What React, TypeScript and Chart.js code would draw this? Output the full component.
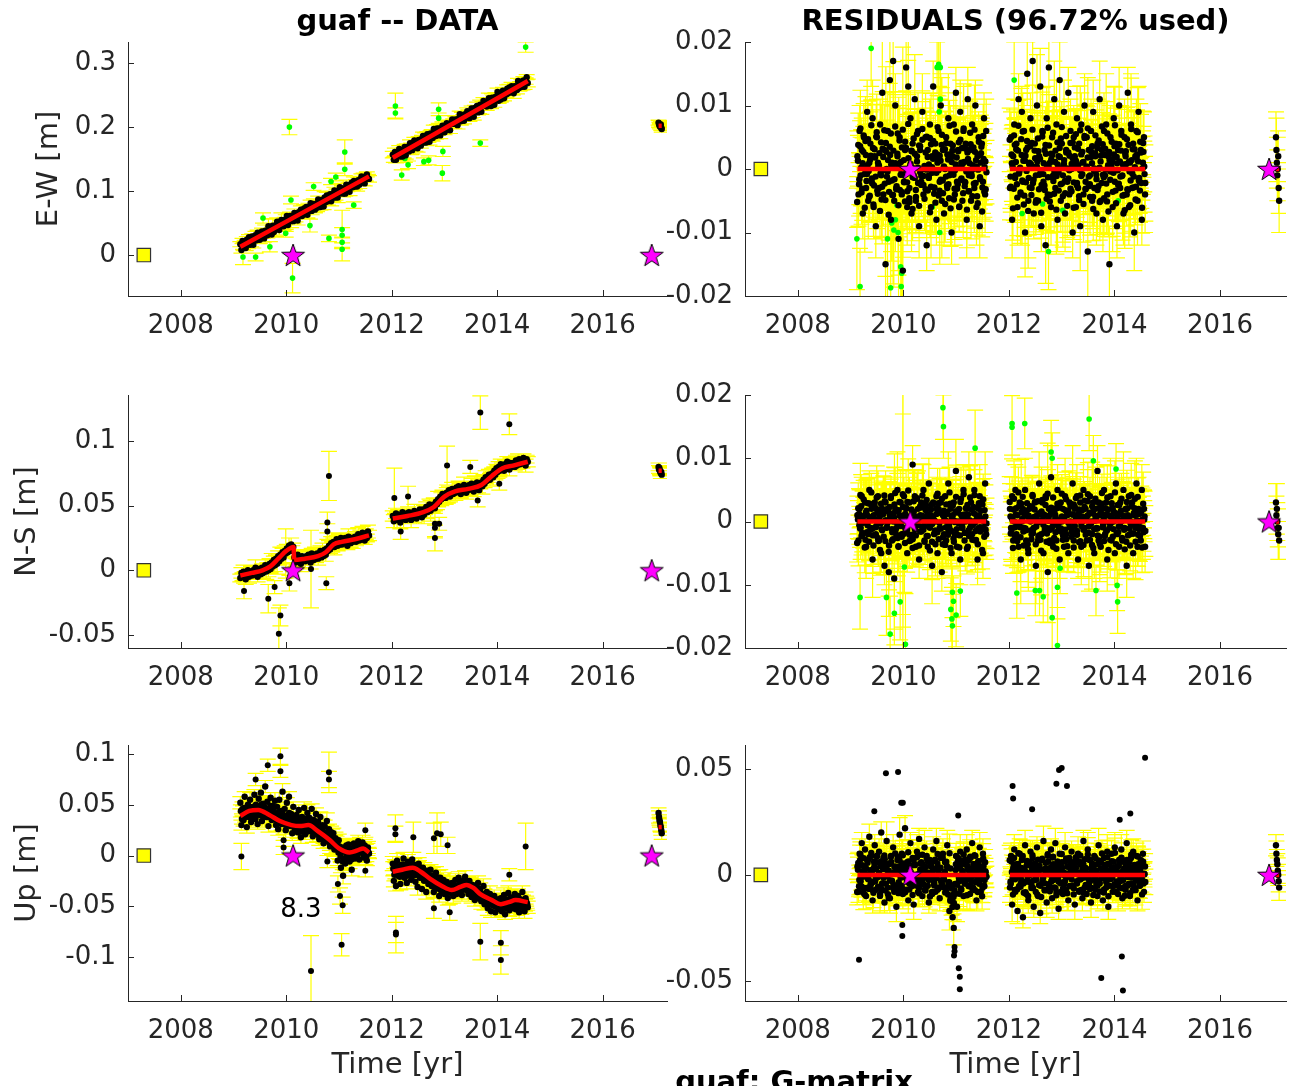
import React, { useEffect, useRef } from "react";
import { Chart, registerables } from "chart.js";

Chart.register(...registerables);

const FONT = "'DejaVu Sans', 'Liberation Sans', sans-serif";
const AXIS_COLOR = "#262626";

// ---------------- time grid (segment start / end epochs, yr) ----------------
const SEG_A = [2009.13, 2011.57];
const SEG_B = [2012.02, 2014.58];
const SEG_C = [2017.06, 2017.12];
// further interleaved sets of daily epochs
const SEG_A_ALT = [2009.14, 2011.56];
const SEG_B_ALT = [2012.03, 2014.57];
const SEG_A_ALT2 = [2009.125, 2011.575];
const SEG_B_ALT2 = [2012.015, 2014.585];

// ---------------- axes ----------------
const X_TICKS = [2008, 2010, 2012, 2014, 2016];
const X_LABELS = ["2008", "2010", "2012", "2014", "2016"];
const Y_TICKS_EW = [0, 0.1, 0.2, 0.3];
const Y_LABELS_EW = ["0", "0.1", "0.2", "0.3"];
const Y_TICKS_NS = [-0.05, 0, 0.05, 0.1];
const Y_LABELS_NS = ["-0.05", "0", "0.05", "0.1"];
const Y_TICKS_UP = [-0.1, -0.05, 0, 0.05, 0.1];
const Y_LABELS_UP = ["-0.1", "-0.05", "0", "0.05", "0.1"];
const Y_TICKS_RES = [-0.02, -0.01, 0, 0.01, 0.02];
const Y_LABELS_RES = ["-0.02", "-0.01", "0", "0.01", "0.02"];
const Y_TICKS_RES_UP = [-0.05, 0, 0.05];
const Y_LABELS_RES_UP = ["-0.05", "0", "0.05"];

// ---------------- reference markers (t, value) ----------------
const REF_SQUARE = [[2007.3, 0]];
const EVENT_STARS = [[2010.13, 0], [2016.93, 0]];

// ---------------- DATA panels: positions in mm ----------------
const EW_A = [17,8,22,13,18,11,24,17,28,16,19,29,16,27,31,23,35,28,24,34,37,30,26,38,36,31,45,35,41,32,46,36,46,43,52,42,39,50,55,47,45,55,50,61,47,56,61,53,61,53,66,57,63,54,67,63,71,61,65,73,64,75,63,74,71,81,69,77,80,71,80,74,87,79,75,86,84,76,90,83,93,84,88,95,84,95,90,101,90,98,90,100,106,97,104,96,103,96,110,104,109,99,109,113,106,116,107,113,107,117,110,118,123,114,122,112,121,126,120,119];
const EW_B = [157,149,161,149,158,156,166,154,163,154,160,169,156,169,167,162,175,166,164,176,179,169,175,167,180,175,171,182,186,176,184,176,189,182,177,190,188,183,197,187,186,198,191,198,187,197,202,194,192,203,206,196,205,195,205,212,208,205,212,208,203,213,220,209,219,212,210,220,219,225,223,214,222,229,221,216,230,225,233,223,226,235,224,234,241,235,236,232,240,245,240,233,246,244,235,247,245,255,241,248,243,252,257,245,254,251,260,253,262,256,264,255,253,264,263,258,272,261,264,271,263,273,263,272,278,269];
const EW_C = [207,205,203,201,202,204,199,197];

const NS_A = [-6,-2,-5,-1,-4,-7,-3,0,-5,-2,-1,-4,0,-3,2,-2,-5,1,-1,-3,2,-2,1,4,-1,3,0,5,1,6,3,8,4,9,5,11,7,12,9,14,10,15,13,17,14,19,16,20,15,18,10,6,9,12,7,10,5,11,8,9,7,11,8,12,9,6,13,10,8,12,9,13,9,12,15,10,14,11,16,12,17,15,19,16,21,18,22,18,21,24,19,23,20,25,20,24,21,25,22,19,26,23,21,25,22,24,26,22,25,28,23,27,24,29,26,23,28,25,30,27];
const NS_B = [42,38,41,44,39,43,40,37,42,45,40,43,39,44,41,45,42,39,44,41,46,43,40,45,42,47,44,41,47,43,46,49,45,48,51,46,50,48,51,48,53,51,55,53,57,55,59,56,59,56,60,58,62,57,61,63,59,62,60,64,61,65,62,59,64,61,66,63,60,65,62,66,63,67,64,61,66,63,68,65,62,67,68,65,70,67,72,69,71,74,70,73,75,72,77,74,79,76,80,77,82,78,81,77,82,79,84,80,78,83,80,82,83,80,85,81,84,86,82,85,83,87,84,81,86,84];
const NS_C = [80,78,79,77,76,75,76,74];

const UP_A = [52,30,46,35,58,41,28,50,38,55,33,47,42,60,36,49,31,56,40,62,34,51,44,68,38,53,29,47,57,35,49,42,54,30,48,26,55,39,44,63,31,46,25,52,37,58,33,41,22,48,35,27,40,23,45,33,18,38,28,47,21,36,42,24,37,30,46,19,35,27,41,22,33,16,38,25,30,12,29,20,34,14,26,9,23,17,22,6,17,11,-5,15,3,-12,8,-20,4,-8,10,-2,11,-6,7,-14,5,12,-3,9,0,14,-4,8,3,13,-2,10,4,-5,8,2];
const UP_B = [-8,-25,-12,-30,-5,-20,-14,-28,-9,-18,-3,-22,-15,-27,-6,-19,-11,-24,-4,-20,-9,-26,-14,-31,-8,-22,-17,-33,-12,-25,-19,-36,-15,-28,-21,-14,-30,-20,-36,-25,-17,-32,-27,-40,-22,-35,-29,-24,-38,-31,-26,-42,-33,-28,-37,-27,-40,-31,-24,-37,-33,-22,-35,-28,-39,-25,-32,-21,-34,-28,-38,-25,-31,-41,-29,-36,-44,-30,-35,-27,-42,-33,-45,-39,-30,-48,-41,-36,-52,-44,-38,-55,-42,-47,-40,-56,-45,-50,-43,-53,-42,-55,-47,-39,-58,-46,-51,-37,-54,-44,-49,-41,-52,-38,-53,-45,-40,-56,-43,-50,-36,-48,-55,-42,-47,-51];
const UP_C = [42,38,35,33,30,28,25,22];
const UP2_A = [44,36,42,47,38,45,41,49,40,46,37,48,43,39,50,44,41,47,42,50,44,39,48,43,46,38,45,41,49,36,44,40,42,35,40,34,43,37,31,41,36,39,30,38,33,42,29,36,32,38,27,33,32,26,35,29,24,33,28,36,25,31,33,27,35,29,24,32,26,30,22,28,24,19,27,21,25,17,23,18,22,14,19,12,17,10,16,9,14,7,11,3,9,-1,6,-6,4,-3,7,0,5,-2,4,-4,7,1,9,2,-1,8,3,10,4,9,2,7,5,-1,6,3];
const UP2_B = [-13,-19,-15,-10,-18,-14,-21,-12,-16,-9,-17,-13,-20,-11,-15,-8,-14,-12,-15,-10,-17,-13,-19,-14,-11,-20,-16,-22,-18,-15,-24,-19,-21,-26,-20,-26,-20,-28,-23,-31,-25,-29,-22,-33,-27,-30,-25,-35,-29,-32,-37,-30,-34,-28,-36,-31,-36,-29,-34,-38,-30,-33,-27,-35,-31,-28,-33,-26,-31,-33,-28,-35,-30,-34,-38,-32,-36,-33,-39,-35,-40,-36,-41,-38,-43,-39,-45,-40,-44,-47,-42,-46,-43,-49,-45,-50,-47,-44,-51,-48,-46,-50,-45,-49,-43,-47,-52,-44,-48,-42,-46,-50,-43,-47,-42,-45,-49,-43,-48,-46,-51,-44,-47,-49,-45,-48];

// ---------------- RESIDUAL panels: mm ----------------
const RES_EW_A = [2,-4,6,-1,3,-7,5,0,-3,9,-5,1,4,-2,8,-6,2,-9,5,1,-3,7,-1,12,-4,3,-15,0,6,-2,14,-8,1,17,-5,10,-3,2,-11,5,0,-4,-16,-2,3,16,-6,13,-3,8,-7,4,-1,11,-5,2,6,-9,3,-2,9,-4,0,5,-12,3,-1,7,-6,2,13,-3,4,-8,1,6,-2,10,-5,3,-7,0,5,-3,8,-1,4,-10,2,7,-4,12,-2,3,-6,9,1,-5,6,-2,4,-8,11,-1,3,-5,7,0,-3,10,-6,2,5,-9,1,4,-2,8,-4,6];
const RES_EW_B = [-3,5,-8,2,7,-1,4,-6,11,0,-4,9,-2,6,-10,3,15,-5,1,8,-3,17,-7,4,-1,10,-5,2,13,-9,6,-2,3,-12,8,-4,16,1,-6,5,-1,11,-3,7,-8,2,14,-5,4,-1,9,-7,3,-2,12,-4,6,0,-10,5,2,-6,8,-3,4,-9,7,1,-4,10,-2,5,-13,3,-1,6,-5,9,-3,2,-7,4,0,11,-5,3,-8,6,-1,7,-4,2,-15,5,1,-6,8,-2,4,-9,3,10,-3,6,-1,-7,5,2,-4,12,-6,1,7,-3,4,-10,2,6,-5,9,-2,3,-8,1,5,-4];
const RES_EW_C = [5,3,1,-1,0,2,-3,-5];
const RES2_EW_A = [1.3,-2.4,3.6,0.2,-3.1,2.7,-0.8,4.4,-1.9,0.6,-0.3,-4.2,2.1,-1.5,3.3,-2.6,1.8,5.1,-3.4,0.4,2.5,-0.7,-4.8,3.2,-0.2,-2.3,4.1,-1.2,1.4,-3.6,2.2,0.7,-4.1,2.9,-1.6,0.9,-2.7,5.6,0.3,-3.3,1.1,3.4,-0.9,-2.1,4.3,-0.4,-3.5,1.7,-5.2,0.8,2.8,-1.3,0.1,2.4,-4.4,1.2,-2.2,3.7,-0.5,-1.1,4.6,-2.5,0.5,-3.2,-0.1,1.9,-1.4,4.9,-2.8,0.3,1.6,-3.9,2.6,-0.6,2.3,-0.2,-3.4,1.3,3.8,-1.8,0.4,3.1,-1.2,-2.6,1.5,-4.6,2.3,-0.3,2.9,-0.9,-3.1,0.7,1.8,-2.4,4.2,0.2,-1.7,3.3,-3.8,1.1,-2.1,-0.4,2.6,-3.5,0.9,3.9,-1.1,0.6,-2.3,2.7,1.4,-4.3,-0.1,2.2,-1.6,3.5,-2.9,1.6,0.3,-3.2];
const RES2_EW_B = [-1.2,2.3,0.4,-3.1,3.8,1.1,-2.4,2.9,-0.7,0.2,4.7,-1.8,1.3,-4.2,2.1,-0.3,3.4,-1.4,-2.9,0.8,4.1,-2.2,0.3,1.7,-4.9,1.2,2.8,-0.9,-0.2,-2.5,5.8,0.9,-3.3,2.4,0.6,-1.3,3.7,-4.1,1.5,2.2,-1.9,-0.4,2.9,-1.1,0.7,-3.4,1.9,4.8,-2.3,0.3,1.4,-3.8,2.6,0.1,-1.5,2.1,-3.1,0.8,4.2,-2.1,0.5,1.3,-2.6,3.2,-4.3,-0.2,2.3,-0.8,1.1,5.2,-3.2,0.4,1.8,-1.2,-2.4,2.8,0.9,-4.4,-0.3,2.5,-0.9,3.3,-2.7,0.2,1.2,-2.2,3.9,-1.3,2.2,-0.1,-5.1,0.6,2.7,-1.7,0.4,1.5,-0.6,3.6,-3.4,1.9,-0.2,-2.3,1.2,2.9,-1.1,0.7,-4.1,2.4,0.8,-3.2,3.8,-0.4,-1.8,1.4,3.1,-1.2,0.3,-2.8,2.3,1.2,-1.4,4.3,-2.2,0.1,2.7,-0.8];
const RES3_EW_A = [-5.2,3.8,-1.6,6.4,-3.7,0.9,5.3,-6.1,2.2,-0.8,4.7,-4.4,1.5,6.9,-2.3,-5.6,3.1,-1.2,5.8,-3.9,0.6,-6.6,4.2,-2.8,1.9,6.1,-4.9,2.7,-0.4,-7.2,3.5,5.6,-1.8,-4.1,0.8,6.7,-3.2,2.4,-5.7,4.5,-0.9,-3.6,6.2,1.4,-5.1,3.3,-2.1,7.1,-4.6,0.5,2.9,-6.3,4.8,-1.4,-3.3,5.5,0.2,-5.8,3.6,-2.5,6.3,-1.1,-4.7,2.6,5.1,-3.4,0.7,-6.8,3.9,-0.6,4.4,-2.9,-5.3,1.8,6.6,-4.2,2.1,-1.7,5.4,-3.8,0.3,-5.5,4.1,2.3,-2.4,6.8,-6.2,1.1,3.7,-4.8,-0.2,5.9,-3.1,2.8,-5.9,4.6,-1.5,0.8,6.4,-2.7,3.2,-6.4,1.6,-3.5,5.7,-0.7,-4.3,3.4,6.2,-2.2,0.4,-5.4,4.3,-1.3,2.5,-6.7,5.2,-3.6,1.2,-0.5];
const RES3_EW_B = [4.6,-2.8,0.9,-6.2,5.3,-1.4,3.1,-4.5,6.8,-0.3,-3.7,2.2,5.9,-5.6,1.3,-2.1,4.4,-6.6,0.7,3.6,-4.1,6.2,-1.7,2.9,-5.3,0.4,4.8,-3.2,1.6,-6.9,5.1,-0.8,-2.6,3.8,-4.7,6.5,0.2,-5.1,2.4,-1.3,5.7,-3.9,1.1,-6.4,4.2,-0.5,3.3,-2.4,6.6,-4.3,0.8,-1.9,5.2,-5.8,2.6,-0.2,4.1,-3.5,1.7,-6.1,3.4,5.5,-2.2,0.6,-4.9,6.1,-1.1,2.7,-5.5,4.9,-3.1,0.3,6.4,-2.7,-4.4,1.9,3.6,-6.3,0.1,5.3,-1.6,-3.3,4.5,-5.2,2.1,6.7,-0.9,-4.6,3.2,-2.3,5.6,-6.7,1.4,-0.4,4.3,-3.6,2.3,6.9,-5.4,0.9,-2.5,3.9,-1.2,5.4,-4.2,0.5,-6.5,2.8,4.7,-3.3,1.2,-5.7,6.3,-0.7,-2.9,3.1,-4.8,1.8,5.8,-1.8,-3.4,2.6,-6.1,4.1,0.4,-2.2];

const RES_NS_A = [1,-3,2,-1,4,-2,0,3,-4,1,-2,5,-1,2,-6,1,3,-2,0,4,-3,1,-5,2,0,-7,3,-1,2,-8,1,4,-3,0,-9,2,-1,5,-4,1,3,-2,-2,4,-1,2,-5,0,3,-3,1,9,-2,4,-4,0,2,-6,1,3,-1,5,-3,0,2,-4,6,-1,1,-7,3,-2,0,4,-5,2,-1,3,-8,1,-2,4,-3,0,6,-1,2,-5,1,3,-2,8,-4,0,2,-6,1,-1,5,-3,0,2,-4,7,-1,3,-2,0,5,-3,1,-6,2,4,-1,3,-5,0,6,-2];
const RES_NS_B = [2,-1,4,-3,0,5,-2,1,-4,3,-6,0,2,-1,5,-3,1,-5,2,0,-2,4,-1,3,-7,1,-3,6,0,-2,3,-5,1,4,-1,-8,2,-3,7,0,-4,2,1,-3,5,-1,-6,3,0,2,-4,4,-2,1,-5,3,0,-1,6,-3,2,-2,4,-6,1,3,-4,0,5,-1,2,-3,1,-7,4,0,-2,3,-5,2,-1,8,-3,1,-4,2,0,5,-2,3,-6,1,-1,4,-3,2,0,-5,6,-2,1,-4,3,0,-3,5,-1,2,-7,1,4,-2,0,3,-5,1,-1,6,-4,2,0,-3,5,-1,2,-4];
const RES_NS_C = [3,1,2,0,-1,-2,-1,-3];
const RES2_NS_A = [0.3,1.2,-1.1,2.4,-1.8,-0.2,0.9,-2.9,1.7,-0.6,0.1,2.8,-1.3,0.7,-2.2,0.4,2.1,-0.8,1.4,-3.1,1.9,-0.3,-1.2,1.1,-2.4,3.2,0.2,-0.9,1.6,-3.8,0.8,0.5,-1.7,1.3,2.7,-1.4,-0.1,-2.6,1.8,0.9,-0.7,0.2,2.3,-1.9,1.2,-1.1,3.1,0.6,-2.1,0.8,-0.4,-2.8,1.5,-1.2,0.7,3.7,-0.6,0.3,-1.6,2.2,0.9,-1.3,0.4,2.6,-2.3,1.1,-0.8,-0.3,1.9,-3.2,0.6,0.2,-1.4,2.1,-1.7,2.9,-0.2,-1.1,1.3,-3.6,1.7,0.3,-0.9,1.2,-2.1,-0.4,2.8,-1.5,0.8,-2.7,0.1,1.6,-1.2,1.4,-0.3,-2.2,3.6,-0.7,0.5,1.1,-1.8,0.7,2.6,-1.4,0.2,-2.3,1.9,-0.6,1.3,-0.2,-2.9,2.2,-1.1,0.9,-1.6,0.4,2.7,-0.9,1.8,-1.3];
const RES2_NS_B = [0.8,-1.3,0.2,1.9,-2.2,1.1,-2.7,-0.3,2.4,-0.9,2.8,0.4,-1.6,1.2,-1.1,1.7,-3.6,0.9,0.1,-1.4,2.3,-1.8,0.7,3.1,-0.8,-0.2,-2.4,1.3,-2.9,1.6,0.3,1.1,-1.2,3.7,-1.9,0.2,0.9,-1.3,2.2,-3.3,-0.3,1.4,-1.7,2.1,-0.6,0.3,2.9,-1.1,0.8,-2.2,0.2,1.8,-2.8,1.3,-0.2,-0.9,2.4,-1.6,1.1,2.7,-0.7,0.4,-2.1,1.2,1.9,-3.1,-0.1,0.8,-1.3,2.3,0.3,-1.8,3.2,-0.8,1.4,-0.4,-3.7,1.6,-1.2,0.9,0.2,-1.1,2.1,-2.4,1.3,2.8,-0.9,0.4,-2.3,1.1,-1.4,1.9,-0.2,-2.9,0.7,2.2,-1.2,0.3,1.3,-1.8,2.6,-0.8,0.1,1.7,-2.6,0.9,-1.3,0.5,-3.2,2.1,0.7,-1.1,-0.3,2.4,-1.9,1.3,3.6,-0.6,0.2,-2.1,1.2,-0.9,1.6,0.3,-1.7,0.8];
const RES3_NS_A = [-3.4,2.1,-0.6,4.2,-2.3,0.8,3.5,-4.1,1.4,-1.7,2.9,-3.2,0.3,4.6,-1.1,-3.8,2.4,-0.9,3.8,-2.6,0.5,-4.5,2.8,-1.4,1.2,4.1,-3.1,1.9,-0.2,-4.8,2.3,3.7,-1.2,-2.8,0.6,4.5,-2.1,1.6,-3.9,3.1,-0.5,-2.4,4.3,0.9,-3.4,2.2,-1.3,4.9,-3.1,0.4,1.9,-4.2,3.2,-0.8,-2.2,3.6,0.1,-3.8,2.4,-1.6,4.1,-0.7,-3.2,1.8,3.4,-2.3,0.5,-4.6,2.6,-0.4,2.9,-1.9,-3.6,1.2,4.4,-2.8,1.4,-1.1,3.6,-2.5,0.2,-3.7,2.7,1.5,-1.6,4.6,-4.2,0.7,2.5,-3.2,-0.1,3.9,-2.1,1.8,-4.1,3.1,-1.0,0.5,4.3,-1.8,2.1,-4.3,1.1,-2.3,3.8,-0.5,-2.9,2.3,4.2,-1.5,0.3,-3.6,2.9,-0.9,1.7,-4.5,3.5,-2.4,0.8,-0.3];
const RES3_NS_B = [3.1,-1.9,0.6,-4.2,3.6,-0.9,2.1,-3.1,4.6,-0.2,-2.5,1.5,3.9,-3.8,0.9,-1.4,2.9,-4.4,0.5,2.4,-2.8,4.2,-1.1,1.9,-3.6,0.3,3.2,-2.2,1.1,-4.6,3.4,-0.5,-1.7,2.6,-3.2,4.4,0.1,-3.4,1.6,-0.9,3.8,-2.6,0.7,-4.3,2.8,-0.3,2.2,-1.6,4.4,-2.9,0.5,-1.3,3.5,-3.9,1.7,-0.1,2.8,-2.4,1.1,-4.1,2.3,3.7,-1.5,0.4,-3.3,4.1,-0.7,1.8,-3.7,3.3,-2.1,0.2,4.3,-1.8,-2.9,1.3,2.4,-4.2,0.1,3.6,-1.1,-2.2,3.0,-3.5,1.4,4.5,-0.6,-3.1,2.1,-1.5,3.8,-4.5,0.9,-0.3,2.9,-2.4,1.5,4.6,-3.6,0.6,-1.7,2.6,-0.8,3.6,-2.8,0.3,-4.4,1.9,3.1,-2.2,0.8,-3.8,4.2,-0.5,-1.9,2.1,-3.2,1.2,3.9,-1.2,-2.3,1.7,-4.1,2.8,0.3,-1.5];

const RES_UP_A = [4,-8,10,-3,15,-6,2,12,-10,7,-2,18,-5,9,-12,3,14,-7,6,-1,11,-9,20,-4,8,-13,5,16,-6,2,-11,9,-3,13,-8,4,-15,7,1,19,-5,10,-9,3,22,-7,6,-12,0,15,-4,8,-14,5,-2,11,-8,17,-3,6,-10,2,13,-6,9,-1,-13,7,4,-9,12,-5,3,16,-7,1,-11,8,-4,10,-2,6,-8,14,-5,-17,3,-12,-20,-25,-9,5,-15,8,-3,11,-7,2,-10,6,-4,12,-1,7,-9,3,15,-6,0,9,-12,4,-3,13,-8,2,10,-5,6,-1];
const RES_UP_B = [-6,9,-14,3,12,-8,5,-17,1,10,-4,7,-20,2,14,-9,6,-12,0,11,-5,8,-15,3,-1,13,-10,4,-18,7,-3,16,-7,2,-13,9,-6,1,12,-11,5,-2,15,-8,3,-16,10,-4,6,-9,0,13,-7,4,-12,8,-1,11,-5,2,-14,7,-3,10,-8,5,1,-11,16,-6,3,-9,12,-2,7,-13,4,0,9,-7,2,-10,14,-4,6,-1,-12,8,3,-6,11,-15,5,-2,10,-8,1,13,-5,4,-9,7,-3,12,-11,2,6,-7,15,-1,4,-10,8,-4,11,-6,1,9,-12,3,-5,7,-2,10,-8,4];
const RES_UP_C = [14,10,7,5,2,0,-3,-6];
const RES2_UP_A = [2.4,-5.3,7.1,-1.2,4.6,-8.4,3.3,0.5,-6.2,5.7,-2.1,8.3,-4.4,1.6,-7.3,6.2,-3.1,2.8,9.2,-5.6,0.3,4.2,-6.7,3.5,-1.4,7.4,-4.1,2.3,-9.1,5.2,-2.6,6.1,0.4,-5.1,3.7,-7.2,1.3,8.6,-3.4,4.1,-6.3,2.2,5.4,-1.1,-8.2,3.3,0.7,6.4,-4.2,1.5,-5.4,7.3,-2.3,4.6,-3.2,-0.2,9.1,-6.1,2.6,-1.3,5.2,-4.3,3.1,-7.4,1.2,6.3,-2.4,0.6,4.3,-8.1,2.1,-3.3,7.2,-1.5,5.4,-6.2,0.2,3.4,-4.6,8.1,-2.2,1.4,-6.3,4.1,-9.3,-3.4,-12.2,-5.3,-15.1,-10.4,-7.2,2.3,-4.1,6.2,-1.4,3.2,-6.4,5.3,0.1,-3.2,7.3,-2.3,4.4,-5.2,1.2,8.1,-3.3,0.4,5.1,-7.2,2.4,-1.1,6.3,-4.2,3.3,-0.3,-6.1,4.2,-2.4,1.3];
const RES2_UP_B = [-3.2,6.3,-1.4,4.2,-7.1,2.3,0.4,5.2,-5.3,3.1,-2.2,8.4,-4.1,1.3,-8.2,4.4,-1.2,6.1,-3.4,0.2,3.3,-6.2,2.1,5.4,-2.3,-9.2,1.1,4.3,-5.1,7.2,-1.3,2.4,-7.3,3.2,0.6,6.2,-4.3,1.4,-3.1,8.2,-2.4,4.1,-6.2,0.3,5.3,-3.2,2.2,-8.1,3.4,1.2,-4.4,6.3,-1.1,0.4,7.1,-5.2,2.3,-2.1,4.2,-6.3,1.3,3.2,-4.1,0.2,6.4,-2.2,-7.1,2.4,5.1,-1.2,3.3,-5.4,0.6,7.3,-3.1,1.1,-6.2,4.3,-2.3,2.2,-4.2,5.1,0.3,-3.3,6.2,-1.4,2.1,-8.3,4.4,-2.2,1.2,5.3,-5.1,0.2,3.1,-1.3,6.2,-4.4,2.3,-3.1,0.4,4.2,-6.1,1.3,7.2,-2.4,3.1,-5.2,0.3,2.2,-4.3,6.1,-1.2,3.4,-7.2,1.1,4.3,-2.2,0.6,5.1,-3.3,2.4,-1.1,6.2,-4.1,0.3];
const RES3_UP_A = [-8.1,5.7,-2.4,9.6,-5.5,1.3,7.9,-9.2,3.3,-1.2,7.1,-6.6,2.2,10.4,-3.5,-8.4,4.7,-1.8,8.7,-5.9,0.9,-9.9,6.3,-4.2,2.8,9.2,-7.4,4.1,-0.6,-10.8,5.3,8.4,-2.7,-6.2,1.2,10.1,-4.8,3.6,-8.6,6.8,-1.3,-5.4,9.3,2.1,-7.7,4.9,-3.2,10.7,-6.9,0.8,4.4,-9.5,7.2,-2.1,-5.0,8.3,0.3,-8.7,5.4,-3.8,9.5,-1.6,-7.1,3.9,7.7,-5.1,1.1,-10.2,5.9,-0.9,6.6,-4.4,-8.0,2.7,9.9,-6.3,3.2,-2.6,8.1,-5.7,0.5,-8.3,6.2,3.5,-3.6,10.2,-11.3,-6.4,-9.5,-13.2,-4.3,8.9,-4.7,4.2,-8.9,6.9,-2.3,1.2,9.6,-4.1,4.8,-9.6,2.4,-5.3,8.6,-1.1,-6.5,5.1,9.3,-3.3,0.6,-8.1,6.5,-2.0,3.8,-10.1,7.8,-5.4,1.8,-0.8];
const RES3_UP_B = [6.9,-4.2,1.4,-9.3,8.0,-2.1,4.7,-6.8,10.2,-0.5,-5.6,3.3,8.9,-8.4,2.0,-3.2,6.6,-9.9,1.1,5.4,-6.2,9.3,-2.6,4.4,-8.0,0.6,7.2,-4.8,2.4,-10.4,7.7,-1.2,-3.9,5.7,-7.1,9.8,0.3,-7.7,3.6,-2.0,8.6,-5.9,1.7,-9.6,6.3,-0.8,5.0,-3.6,9.9,-6.5,1.2,-2.9,7.8,-8.7,3.9,-0.3,6.2,-5.3,2.6,-9.2,5.1,8.3,-3.3,0.9,-7.4,9.2,-1.7,4.1,-8.3,7.4,-4.7,0.5,9.6,-4.1,-6.6,2.9,5.4,-9.5,0.2,8.0,-2.4,-5.0,6.8,-7.8,3.2,10.1,-1.4,-6.9,4.8,-3.5,8.4,-10.1,2.1,-0.6,6.5,-5.4,3.5,10.4,-8.1,1.4,-3.8,5.9,-1.8,8.1,-6.3,0.8,-9.8,4.2,7.1,-5.0,1.8,-8.6,9.5,-1.1,-4.4,4.7,-7.2,2.7,8.7,-2.7,-5.1,3.9,-9.2,6.2,0.6,-3.3];

// ---------------- formal errors (1 sigma, mm) ----------------
const SIG_EW_A = [4,5,4,6,5,4,5,7,4,5,6,4,5,4,6,5,4,5,6,4,5,4,6,9,5,4,12,5,6,4,10,5,4,14,6,5,8,4,11,5,6,4,13,5,4,9,6,10,5,4,6,5,4,7,5,4,6,5,4,5,6,4,5,7,4,5,6,4,8,5,4,6,5,4,5,6,4,5,9,4,5,6,4,5,7,4,6,5,4,5,8,4,6,5,4,5,6,4,7,5,4,6,5,4,5,6,4,5,7,4,6,5,4,5,6,4,5,4,6,5];
const SIG_EW_B = [5,4,6,5,4,7,5,6,4,5,8,4,6,5,7,4,5,9,6,4,5,7,4,6,5,8,4,5,6,4,7,5,4,6,5,4,8,5,6,4,5,6,4,7,5,4,6,5,4,8,5,6,4,5,4,6,5,7,4,5,6,4,5,6,4,7,5,4,6,5,4,5,8,4,6,5,4,5,6,4,5,7,4,6,5,4,5,6,4,8,5,4,6,5,4,7,5,6,4,5,4,6,5,4,7,5,6,4,5,4,6,5,8,4,5,6,4,5,7,4,5,6,4,5,4,6];
const SIG_EW_C = [4,5,4,4,5,4,4,5];
const SIG_NS_A = [3,4,3,5,3,4,3,4,5,3,4,3,4,3,6,3,4,3,5,4,3,4,3,4,6,3,5,4,3,7,4,3,5,3,8,4,3,6,4,3,5,4,19,3,4,6,3,5,4,3,4,3,5,4,3,4,6,3,4,3,5,4,3,4,3,5,4,3,4,6,3,4,5,3,4,3,7,4,3,5,4,3,4,3,5,4,3,6,4,3,4,5,3,4,3,4,5,3,4,3,6,4,3,4,5,3,4,3,4,5,3,4,3,5,4,3,4,3,5,4];
const SIG_NS_B = [4,5,3,4,6,4,3,5,4,3,7,4,3,4,5,3,4,6,3,4,5,3,4,3,6,4,3,5,4,7,3,4,5,3,4,8,4,3,5,4,3,4,6,3,4,5,3,4,3,5,4,6,3,4,3,5,4,3,6,4,3,4,5,3,4,3,6,4,5,3,4,3,5,4,3,4,7,3,4,5,3,4,3,6,4,3,5,4,3,4,5,3,4,6,3,4,3,5,4,3,4,5,3,4,3,6,4,3,5,4,3,4,5,3,4,3,6,4,3,5,4,3,4,5,3,4];
const SIG_NS_C = [3,3,4,3,3,4,3,3];
const SIG_UP_A = [6,5,7,6,5,8,6,5,6,7,5,6,8,5,6,7,5,6,5,7,6,8,5,6,7,5,6,9,5,6,7,5,8,6,5,6,7,5,6,8,5,6,7,5,6,5,8,6,7,5,6,5,7,6,5,8,6,5,7,6,5,6,8,5,7,6,5,6,7,5,6,8,5,6,5,7,6,5,6,7,8,6,5,7,6,9,5,7,6,8,5,6,7,5,6,8,5,7,6,5,6,7,5,6,8,5,6,7,5,6,5,8,6,7,5,6,7,5,6,5];
const SIG_UP_B = [7,6,8,5,7,6,8,6,5,7,6,8,5,6,7,5,8,6,7,5,6,7,5,8,6,5,7,6,5,8,6,7,5,6,7,5,6,8,5,7,6,5,7,6,8,5,6,7,5,6,5,7,6,8,5,6,7,5,6,5,7,6,5,8,6,5,7,6,5,6,7,5,8,6,5,7,6,5,6,7,5,6,8,5,7,6,5,6,7,5,8,6,5,7,6,5,6,7,5,6,8,5,6,7,5,6,5,7,6,8,5,6,7,5,6,5,7,6,5,8,6,5,7,6,5,6];
const SIG_UP_C = [5,6,5,5,6,5,5,6];

// ---------------- outliers: [t (yr), value (mm), sigma (mm)] ----------------
const OUT_EW_DATA_GREEN = [[2010.06,200,12],[2010.12,-36,23],[2014.54,325,8],[2012.07,233,20],[2012.07,222,8],[2011.11,161,19],[2011.11,134,10],[2011.28,78,5],[2011.06,40,30],[2011.06,31,12],[2011.06,20,8],[2011.06,9,18],[2010.81,26,5],[2010.45,46,10],[2010.09,86,6],[2009.69,13,8],[2009.18,-3,12],[2009.42,-3,6],[2009.56,58,8],[2009.99,34,6],[2010.52,107,6],[2010.85,115,5],[2010.94,122,6],[2012.19,125,8],[2012.31,141,6],[2012.61,146,6],[2012.70,148,7],[2012.89,228,10],[2012.89,214,8],[2012.96,128,12],[2013.68,175,5],[2012.97,162,8],[2012.25,151,6]];
const OUT_NS_DATA_BLACK = [[2009.20,-16,6],[2009.66,-22,11],[2009.78,-13,5],[2009.89,-35,8],[2009.86,-49,20],[2010.06,-10,6],[2010.47,1,30],[2010.81,73,19],[2010.78,37,8],[2010.78,30,6],[2010.76,-10,5],[2012.05,56,23],[2012.31,57,8],[2012.17,30,6],[2012.82,36,10],[2012.82,33,8],[2012.82,25,10],[2012.90,36,5],[2013.05,81,15],[2013.49,80,5],[2013.68,122,13],[2014.23,113,8],[2013.63,54,5],[2014.04,67,5]];
const OUT_UP_DATA_BLACK = [[2009.15,-1,13],[2009.42,75,6],[2009.65,89,6],[2009.89,98,8],[2009.89,83,6],[2009.95,15,6],[2009.95,8,7],[2010.81,82,20],[2010.81,75,8],[2010.78,-6,6],[2010.47,-114,35],[2010.98,-28,8],[2011.02,-40,8],[2011.07,-49,8],[2011.05,-88,11],[2011.50,-15,6],[2011.50,25,7],[2012.07,27,13],[2012.07,21,8],[2012.08,-78,18],[2012.08,-76,10],[2012.41,18,15],[2012.80,17,15],[2012.86,22,20],[2012.93,21,12],[2013.06,10,8],[2012.80,-52,10],[2013.10,-56,8],[2013.68,-85,18],[2014.07,-86,12],[2014.07,-103,14],[2014.23,-19,6],[2014.54,9,23]];
const OUT_EW_RES_GREEN = [[2009.39,19,6],[2010.67,16.5,5],[2010.64,16,4],[2010.70,16,5],[2010.70,11,4],[2010.68,9,4],[2012.10,14,6],[2009.18,-18.5,6],[2009.12,-11,8],[2009.70,-11,12],[2009.78,-8.5,6],[2009.82,-9.6,9],[2009.85,-8,5],[2009.76,-18.7,10],[2009.95,-15.4,12],[2009.97,-16.4,8],[2009.96,-18.5,14],[2009.90,-10,6],[2010.69,-10,5],[2010.55,-6,4],[2012.25,-7,5],[2012.75,-13,6],[2012.64,-5.5,4],[2013.02,-6.5,5],[2014.07,-5,4],[2009.88,-5.7,4]];
const OUT_NS_RES_GREEN = [[2010.75,18,5],[2010.76,15,5],[2011.36,11.6,6],[2012.06,15.5,5],[2012.06,14.9,5],[2012.30,15.5,4],[2013.52,16.2,5],[2012.80,11,5],[2012.82,10,4],[2013.60,9.6,4],[2014.03,8.3,4],[2009.18,-12,5],[2009.68,-12,6],[2009.83,-14.5,5],[2009.75,-17.8,6],[2009.94,-12.7,6],[2010.04,-19.4,8],[2010.02,-7.2,4],[2010.90,-13.9,5],[2010.92,-15.4,5],[2010.93,-16.5,5],[2010.95,-12.6,4],[2011.0,-14.8,5],[2011.08,-11,4],[2010.93,-11.2,4],[2012.15,-11.3,4],[2012.50,-10.9,4],[2012.58,-10.9,4],[2012.65,-11.9,4],[2012.82,-15.2,14],[2012.92,-10.4,5],[2012.92,-19.6,6],[2013.65,-10.9,4],[2014.05,-10.1,4],[2014.06,-12.7,5],[2012.97,-7.4,4]];
const OUT_UP_RES_BLACK = [[2009.16,-40,0],[2009.45,30,0],[2009.67,48,0],[2009.90,48.6,0],[2009.96,34,0],[2009.99,34,0],[2009.98,-23.6,0],[2009.98,-28.8,0],[2010.97,-34,0],[2010.97,-36,0],[2010.96,-38,0],[2011.05,-44,0],[2011.07,-48,0],[2011.07,-54,0],[2011.04,28,0],[2012.07,42,0],[2012.08,36,0],[2012.44,31,0],[2012.90,43,0],[2012.95,49.5,0],[2013.0,50.5,0],[2013.10,42,0],[2013.75,-48.6,0],[2014.14,-38.5,0],[2014.16,-54.6,0],[2014.58,55.3,0],[2014.30,29,0],[2014.10,26,0]];

// ---------------- fitted models (red): [t, mm] ----------------
const MODEL_EW_A = [[2009.13,13],[2011.57,123]];
const MODEL_EW_B = [[2012.02,152],[2014.58,272]];
const MODEL_EW_C = [[2017.06,202],[2017.12,202]];
const MODEL_NS_A = [[2009.13,-4],[2009.35,-2],[2009.55,0],[2009.70,3],[2009.85,9],[2010.0,15],[2010.14,18],[2010.15,8],[2010.35,9],[2010.6,11],[2010.75,14],[2010.9,20],[2011.05,22],[2011.3,24],[2011.57,27]];
const MODEL_NS_B = [[2012.02,40],[2012.3,42],[2012.6,45],[2012.8,49],[2013.0,57],[2013.2,61],[2013.45,63],[2013.7,66],[2013.9,73],[2014.1,79],[2014.3,81],[2014.58,84]];
const MODEL_NS_C = [[2017.06,77],[2017.12,77]];
const MODEL_UP_A = [[2009.13,39],[2009.3,44],[2009.47,45],[2009.68,40],[2009.88,34],[2010.1,30],[2010.26,29],[2010.42,30],[2010.6,24],[2010.83,15],[2011.0,7],[2011.2,3],[2011.35,5],[2011.46,7],[2011.57,3]];
const MODEL_UP_B = [[2012.02,-16],[2012.2,-14],[2012.4,-12],[2012.55,-16],[2012.73,-23],[2012.95,-30],[2013.14,-34],[2013.3,-31],[2013.42,-29],[2013.55,-32],[2013.68,-38],[2013.9,-44],[2014.07,-48],[2014.22,-46],[2014.35,-44],[2014.58,-46]];
const MODEL_UP_C = [[2017.06,28],[2017.12,28]];
const RES_MODEL_A = [[2009.13,0],[2011.57,0]];
const RES_MODEL_B = [[2012.02,0],[2014.58,0]];
const RES_MODEL_C = [[2017.06,0],[2017.12,0]];

// ---------------- helpers ----------------
const CAP = 8;

function sampled(seg: number[], valsMM: number[], sigMM: number[]) {
  const n = valsMM.length;
  return valsMM.map((v, i) => ({
    x: n > 1 ? seg[0] + ((seg[1] - seg[0]) * i) / (n - 1) : seg[0],
    y: v / 1000,
    s: (sigMM[i] ?? 0) / 1000,
  }));
}
function triples(list: number[][]) {
  return list.map(([t, v, s]) => ({ x: t, y: v / 1000, s: s / 1000 }));
}
function knots(list: number[][]) {
  return list.map(([t, v]) => ({ x: t, y: v / 1000 }));
}

let STAR: HTMLCanvasElement | null = null;
function starImage() {
  if (STAR) return STAR;
  const c = document.createElement("canvas");
  c.width = 28;
  c.height = 28;
  const g = c.getContext("2d")!;
  g.beginPath();
  for (let k = 0; k < 10; k++) {
    const r = k % 2 === 0 ? 12 : 4.8;
    const a = -Math.PI / 2 + (k * Math.PI) / 5;
    const px = 14 + r * Math.cos(a);
    const py = 15 + r * Math.sin(a);
    if (k === 0) g.moveTo(px, py);
    else g.lineTo(px, py);
  }
  g.closePath();
  g.fillStyle = "#ff00ff";
  g.fill();
  g.strokeStyle = "#000";
  g.lineWidth = 1;
  g.stroke();
  STAR = c;
  return c;
}

const errorBarPlugin = {
  id: "errorBars",
  beforeDatasetsDraw(chart: any) {
    const { ctx, chartArea: a, scales } = chart;
    const xs = scales.x;
    const ys = scales.y;
    ctx.save();
    ctx.beginPath();
    ctx.rect(a.left, a.top, a.right - a.left, a.bottom - a.top);
    ctx.clip();
    ctx.strokeStyle = "#ffff00";
    ctx.lineWidth = 1.2;
    ctx.beginPath();
    chart.data.datasets.forEach((ds: any) => {
      if (!ds.errorBars) return;
      ds.data.forEach((p: any) => {
        if (!p.s) return;
        const px = xs.getPixelForValue(p.x);
        const yt = ys.getPixelForValue(p.y + p.s);
        const yb = ys.getPixelForValue(p.y - p.s);
        ctx.moveTo(px, yt);
        ctx.lineTo(px, yb);
        ctx.moveTo(px - CAP, yt);
        ctx.lineTo(px + CAP, yt);
        ctx.moveTo(px - CAP, yb);
        ctx.lineTo(px + CAP, yb);
      });
    });
    ctx.stroke();
    ctx.restore();
  },
};

const inwardTicksPlugin = {
  id: "inwardTicks",
  afterDraw(chart: any) {
    const { ctx, chartArea: a, scales } = chart;
    ctx.save();
    ctx.strokeStyle = AXIS_COLOR;
    ctx.lineWidth = 1;
    ctx.beginPath();
    scales.x.ticks.forEach((t: any) => {
      const px = Math.round(scales.x.getPixelForValue(t.value)) + 0.5;
      ctx.moveTo(px, a.bottom);
      ctx.lineTo(px, a.bottom - 6);
    });
    scales.y.ticks.forEach((t: any) => {
      const py = Math.round(scales.y.getPixelForValue(t.value)) + 0.5;
      ctx.moveTo(a.left, py);
      ctx.lineTo(a.left + 6, py);
    });
    ctx.stroke();
    ctx.restore();
  },
};

type TextItem = {
  text: string;
  x: number;
  y: number;
  font: string;
  color: string;
  rot?: number;
  data?: boolean;
  baseline?: CanvasTextBaseline;
};

function textPlugin(items: TextItem[]) {
  return {
    id: "texts",
    afterDraw(chart: any) {
      const ctx = chart.ctx;
      items.forEach((it) => {
        let x = it.x;
        let y = it.y;
        if (it.data) {
          x = chart.scales.x.getPixelForValue(it.x);
          y = chart.scales.y.getPixelForValue(it.y);
        }
        ctx.save();
        ctx.translate(x, y);
        if (it.rot) ctx.rotate(it.rot);
        ctx.font = it.font;
        ctx.fillStyle = it.color;
        ctx.textAlign = "center";
        ctx.textBaseline = it.baseline || "middle";
        ctx.fillText(it.text, 0, 0);
        ctx.restore();
      });
    },
  };
}

// ---------------- layout ----------------
const COL_L = { x: 0, w: 690, yW: 128, padR: 23, xMax: 2017.22 };
const COL_R = { x: 655, w: 643, yW: 90, padR: 12, xMax: 2017.25 };
const ROW_1 = { y: 0, h: 340, padT: 42, padB: 0 };
const ROW_2 = { y: 350, h: 342, padT: 45, padB: 0 };
const ROW_3 = { y: 700, h: 386, padT: 45, padB: 41 };
const X_AXIS_H = 44;

const TITLE_FONT = `bold 29px ${FONT}`;
const LABEL_FONT = `29px ${FONT}`;

type PanelCfg = {
  key: string;
  col: typeof COL_L;
  row: typeof ROW_1;
  yMin: number;
  yMax: number;
  yTicks: number[];
  yLabels: string[];
  main: [number[], number[], number[]][];
  green: number[][];
  black: number[][];
  models: number[][][];
  texts: TextItem[];
};

const PANELS: PanelCfg[] = [
  {
    key: "ew-data", col: COL_L, row: ROW_1, yMin: -0.064, yMax: 0.333,
    yTicks: Y_TICKS_EW, yLabels: Y_LABELS_EW,
    main: [[SEG_A, EW_A, SIG_EW_A], [SEG_B, EW_B, SIG_EW_B], [SEG_C, EW_C, SIG_EW_C]],
    green: OUT_EW_DATA_GREEN, black: [],
    models: [MODEL_EW_A, MODEL_EW_B, MODEL_EW_C],
    texts: [
      { text: "guaf -- DATA", x: 397.5, y: 22, font: TITLE_FONT, color: "#000" },
      { text: "E-W [m]", x: 49, y: 169, font: LABEL_FONT, color: AXIS_COLOR, rot: -Math.PI / 2 },
    ],
  },
  {
    key: "ew-res", col: COL_R, row: ROW_1, yMin: -0.02, yMax: 0.02,
    yTicks: Y_TICKS_RES, yLabels: Y_LABELS_RES,
    main: [[SEG_A, RES_EW_A, SIG_EW_A], [SEG_A_ALT, RES2_EW_A, SIG_EW_A], [SEG_A_ALT2, RES3_EW_A, SIG_EW_A], [SEG_B, RES_EW_B, SIG_EW_B], [SEG_B_ALT, RES2_EW_B, SIG_EW_B], [SEG_B_ALT2, RES3_EW_B, SIG_EW_B], [SEG_C, RES_EW_C, SIG_EW_C]],
    green: OUT_EW_RES_GREEN, black: [],
    models: [RES_MODEL_A, RES_MODEL_B, RES_MODEL_C],
    texts: [{ text: "RESIDUALS (96.72% used)", x: 360.5, y: 22, font: TITLE_FONT, color: "#000" }],
  },
  {
    key: "ns-data", col: COL_L, row: ROW_2, yMin: -0.0601, yMax: 0.1356,
    yTicks: Y_TICKS_NS, yLabels: Y_LABELS_NS,
    main: [[SEG_A, NS_A, SIG_NS_A], [SEG_B, NS_B, SIG_NS_B], [SEG_C, NS_C, SIG_NS_C]],
    green: [], black: OUT_NS_DATA_BLACK,
    models: [MODEL_NS_A, MODEL_NS_B, MODEL_NS_C],
    texts: [{ text: "N-S [m]", x: 27, y: 171.5, font: LABEL_FONT, color: AXIS_COLOR, rot: -Math.PI / 2 }],
  },
  {
    key: "ns-res", col: COL_R, row: ROW_2, yMin: -0.02, yMax: 0.02,
    yTicks: Y_TICKS_RES, yLabels: Y_LABELS_RES,
    main: [[SEG_A, RES_NS_A, SIG_NS_A], [SEG_A_ALT, RES2_NS_A, SIG_NS_A], [SEG_A_ALT2, RES3_NS_A, SIG_NS_A], [SEG_B, RES_NS_B, SIG_NS_B], [SEG_B_ALT, RES2_NS_B, SIG_NS_B], [SEG_B_ALT2, RES3_NS_B, SIG_NS_B], [SEG_C, RES_NS_C, SIG_NS_C]],
    green: OUT_NS_RES_GREEN, black: [],
    models: [RES_MODEL_A, RES_MODEL_B, RES_MODEL_C],
    texts: [],
  },
  {
    key: "up-data", col: COL_L, row: ROW_3, yMin: -0.1435, yMax: 0.109,
    yTicks: Y_TICKS_UP, yLabels: Y_LABELS_UP,
    main: [[SEG_A, UP_A, SIG_UP_A], [SEG_A_ALT, UP2_A, SIG_UP_A], [SEG_B, UP_B, SIG_UP_B], [SEG_B_ALT, UP2_B, SIG_UP_B], [SEG_C, UP_C, SIG_UP_C]],
    green: [], black: OUT_UP_DATA_BLACK,
    models: [MODEL_UP_A, MODEL_UP_B, MODEL_UP_C],
    texts: [
      { text: "Up [m]", x: 27, y: 173, font: LABEL_FONT, color: AXIS_COLOR, rot: -Math.PI / 2 },
      { text: "Time [yr]", x: 397.5, y: 365, font: LABEL_FONT, color: AXIS_COLOR },
      { text: "8.3", x: 2010.28, y: -0.054, font: `26px ${FONT}`, color: "#000", data: true },
    ],
  },
  {
    key: "up-res", col: COL_R, row: ROW_3, yMin: -0.0595, yMax: 0.0613,
    yTicks: Y_TICKS_RES_UP, yLabels: Y_LABELS_RES_UP,
    main: [[SEG_A, RES_UP_A, SIG_UP_A], [SEG_A_ALT, RES2_UP_A, SIG_UP_A], [SEG_A_ALT2, RES3_UP_A, SIG_UP_A], [SEG_B, RES_UP_B, SIG_UP_B], [SEG_B_ALT, RES2_UP_B, SIG_UP_B], [SEG_B_ALT2, RES3_UP_B, SIG_UP_B], [SEG_C, RES_UP_C, SIG_UP_C]],
    green: [], black: OUT_UP_RES_BLACK,
    models: [RES_MODEL_A, RES_MODEL_B, RES_MODEL_C],
    texts: [
      { text: "Time [yr]", x: 360.5, y: 365, font: LABEL_FONT, color: AXIS_COLOR },
      { text: "guaf: G-matrix", x: 139, y: 391, font: TITLE_FONT, color: "#000", baseline: "alphabetic" },
    ],
  },
];

function buildConfig(p: PanelCfg): any {
  const datasets: any[] = [];
  datasets.push({
    label: "events",
    data: knots(EVENT_STARS.map(([t, v]) => [t, v * 1000])),
    pointStyle: starImage(),
    pointRadius: 11,
    order: 0,
  });
  datasets.push({
    label: "reference",
    data: knots(REF_SQUARE.map(([t, v]) => [t, v * 1000])),
    pointStyle: "rect",
    pointRadius: 9.5,
    backgroundColor: "#ffff00",
    borderColor: "#333333",
    borderWidth: 1.2,
    order: 1,
  });
  p.models.forEach((m) =>
    datasets.push({
      label: "model",
      data: knots(m),
      showLine: true,
      borderColor: "#ff0000",
      borderWidth: 4.5,
      pointRadius: 0,
      cubicInterpolationMode: "monotone",
      fill: false,
      order: 2,
    })
  );
  p.main.forEach(([seg, vals, sig]) =>
    datasets.push({
      label: "data",
      data: sampled(seg, vals, sig),
      errorBars: true,
      backgroundColor: "#000000",
      borderWidth: 0,
      pointRadius: 3.2,
      order: 3,
    })
  );
  if (p.black.length)
    datasets.push({
      label: "outliers",
      data: triples(p.black),
      errorBars: true,
      backgroundColor: "#000000",
      borderWidth: 0,
      pointRadius: 3,
      order: 3,
    });
  if (p.green.length)
    datasets.push({
      label: "rejected",
      data: triples(p.green),
      errorBars: true,
      backgroundColor: "#00ff00",
      borderWidth: 0,
      pointRadius: 2.8,
      order: 4,
    });

  const tickFont = { family: FONT, size: 26 };
  return {
    type: "scatter",
    data: { datasets },
    options: {
      responsive: false,
      maintainAspectRatio: false,
      animation: false,
      events: [],
      layout: { padding: { left: 0, top: p.row.padT, right: p.col.padR, bottom: p.row.padB } },
      plugins: { legend: { display: false }, tooltip: { enabled: false }, title: { display: false } },
      scales: {
        x: {
          type: "linear",
          position: "bottom",
          min: 2007.0,
          max: p.col.xMax,
          grid: { display: false, drawTicks: false },
          border: { display: true, color: AXIS_COLOR, width: 1 },
          ticks: {
            font: tickFont,
            color: AXIS_COLOR,
            padding: 15,
            autoSkip: false,
            maxRotation: 0,
            minRotation: 0,
            callback: (_v: any, i: number) => X_LABELS[i],
          },
          afterBuildTicks: (s: any) => {
            s.ticks = X_TICKS.map((v) => ({ value: v }));
          },
          afterFit: (s: any) => {
            s.height = X_AXIS_H;
          },
        },
        y: {
          type: "linear",
          position: "left",
          min: p.yMin,
          max: p.yMax,
          grid: { display: false, drawTicks: false },
          border: { display: true, color: AXIS_COLOR, width: 1 },
          ticks: {
            font: tickFont,
            color: AXIS_COLOR,
            padding: 12,
            autoSkip: false,
            callback: (_v: any, i: number) => p.yLabels[i],
          },
          afterBuildTicks: (s: any) => {
            s.ticks = p.yTicks.map((v) => ({ value: v }));
          },
          afterFit: (s: any) => {
            s.width = p.col.yW;
          },
        },
      },
    },
    plugins: [errorBarPlugin, inwardTicksPlugin, textPlugin(p.texts)],
  };
}

function Panel({ cfg }: { cfg: PanelCfg }) {
  const ref = useRef<HTMLCanvasElement>(null);
  useEffect(() => {
    if (!ref.current) return;
    const chart = new Chart(ref.current, buildConfig(cfg));
    return () => chart.destroy();
  }, [cfg]);
  return (
    <canvas
      ref={ref}
      width={cfg.col.w}
      height={cfg.row.h}
      style={{
        position: "absolute",
        left: cfg.col.x,
        top: cfg.row.y,
        width: cfg.col.w,
        height: cfg.row.h,
      }}
    />
  );
}

export default function App() {
  return (
    <div
      style={{
        position: "fixed",
        left: 0,
        top: 0,
        width: 1298,
        height: 1086,
        overflow: "hidden",
        background: "#ffffff",
      }}
    >
      {PANELS.map((p) => (
        <Panel key={p.key} cfg={p} />
      ))}
    </div>
  );
}
